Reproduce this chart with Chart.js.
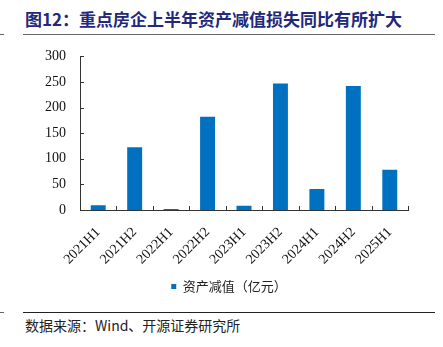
<!DOCTYPE html>
<html lang="zh">
  <head>
    <meta charset="utf-8" />
    <script src="https://cdn.jsdelivr.net/npm/chart.js"></script>
    <title>重点房企上半年资产减值损失</title>
    <style>
      body {
        margin: 0;
        padding: 0;
        background: #fff;
        width: 443px;
        height: 347px;
        position: relative;
        overflow: hidden;
      }

      .titulo {
        position: absolute;
        left: 25px;
        top: 7px;
        font-family: "Noto Sans CJK SC", sans-serif;
        font-weight: bold;
        font-size: 17px;
        line-height: 24px;
        color: #23287a;
        white-space: nowrap;
      }

      .linha {
        position: absolute;
        left: 23px;
        width: 412px;
        height: 1px;
      }

      .traco {
        position: absolute;
        left: 0;
        width: 4px;
        height: 1px;
        background: #666;
      }

      .fonte {
        position: absolute;
        left: 25px;
        top: 316px;
        font-family: "Noto Sans CJK SC", sans-serif;
        font-size: 14px;
        line-height: 18px;
        color: #222;
        white-space: nowrap;
      }

      #chartBox {
        position: absolute;
        left: 0;
        top: 34px;
        width: 443px;
        height: 269px;
      }
    </style>
  </head>
  <body>
    <div class="titulo">图12：重点房企上半年资产减值损失同比有所扩大</div>
    <div class="linha" style="top: 34px; background: #666"></div>
    <div class="traco" style="top: 34px"></div>

    <div id="chartBox">
      <canvas id="myChart"></canvas>
    </div>

    <div class="linha" style="top: 312px; background: #222"></div>
    <div class="traco" style="top: 312px"></div>
    <div class="fonte">数据来源：Wind、开源证券研究所</div>

    <script>
      // dados
      var periodos = ["2021H1", "2021H2", "2022H1", "2022H2", "2023H1", "2023H2", "2024H1", "2024H2", "2025H1"];
      var impairment = [9.5, 122.5, 2, 182, 8.5, 247, 41, 242, 78.5];
      var serieNome = "资产减值（亿元）";
      var yMin = 0;
      var yMax = 300;
      var yStep = 50;

      // marcas curtas para dentro nos eixos
      var tickPlugin = {
        id: "tickInside",
        afterDraw: function (chart) {
          var ctx = chart.ctx;
          var x = chart.scales.x;
          var y = chart.scales.y;
          ctx.save();
          ctx.strokeStyle = "#333";
          ctx.lineWidth = 1;
          ctx.beginPath();
          y.ticks.forEach(function (t) {
            var py = Math.round(y.getPixelForValue(t.value)) + 0.5;
            ctx.moveTo(x.left, py);
            ctx.lineTo(x.left + 4, py);
          });
          for (var i = 0; i <= periodos.length; i++) {
            var px = Math.round(x.getPixelForValue(i - 0.5)) + 0.5;
            ctx.moveTo(px, y.bottom);
            ctx.lineTo(px, y.bottom - 4);
          }
          ctx.stroke();
          ctx.restore();
        }
      };

      // legenda um pouco para a direita, como no original
      var legendShift = {
        id: "legendShift",
        afterLayout: function (chart) {
          if (chart.legend) {
            chart.legend.left += 25;
            chart.legend.right += 25;
          }
        }
      };

      var ctx = document.getElementById("myChart").getContext("2d");
      var myChart = new Chart(ctx, {
        type: "bar",
        data: {
          labels: periodos,
          datasets: [{
            label: serieNome,
            data: impairment,
            backgroundColor: "#0070c0",
            borderWidth: 0,
            barPercentage: 0.41,
            categoryPercentage: 1
          }]
        },
        options: {
          responsive: true,
          maintainAspectRatio: false,
          animation: false,
          layout: {
            padding: { top: 10, right: 35, left: 0, bottom: 0 }
          },
          plugins: {
            legend: {
              position: "bottom",
              labels: {
                boxWidth: 5,
                boxHeight: 5,
                padding: 10,
                color: "#222",
                font: { family: "'Noto Sans CJK SC', sans-serif", size: 13 }
              }
            },
            tooltip: { enabled: false }
          },
          scales: {
            x: {
              grid: { display: false, drawTicks: false },
              border: { display: true, color: "#333", width: 1 },
              ticks: {
                color: "#111",
                minRotation: 45,
                maxRotation: 45,
                padding: 14,
                font: { family: "'Liberation Serif', serif", size: 14 }
              },
              afterFit: function (scale) { scale.height = 60; }
            },
            y: {
              min: yMin,
              max: yMax,
              grid: { display: false, drawTicks: false },
              border: { display: true, color: "#333", width: 1 },
              ticks: {
                stepSize: yStep,
                color: "#111",
                padding: 14,
                font: { family: "'Liberation Serif', serif", size: 14 }
              },
              afterFit: function (scale) { scale.width = 80; }
            }
          }
        },
        plugins: [tickPlugin, legendShift]
      });
    </script>
  </body>
</html>
